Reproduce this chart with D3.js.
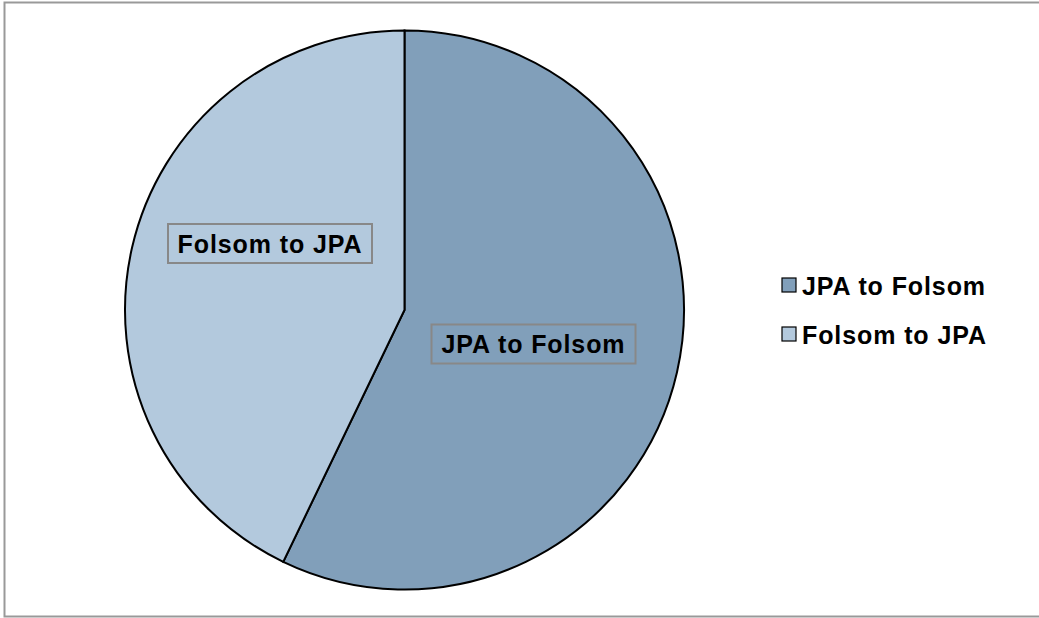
<!DOCTYPE html>
<html><head><meta charset="utf-8">
<script src="https://cdn.jsdelivr.net/npm/d3@7"></script>
<style>body{margin:0;background:#fff;}svg{display:block;}text{font-family:"Liberation Sans",Arial,sans-serif;font-weight:bold;letter-spacing:0.9px;}</style>
</head><body>
<svg id="c" width="1039" height="618"></svg>
<script>
const categories = ["JPA to Folsom", "Folsom to JPA"];
const values = [4, 3];
const colors = ["#819FBA", "#B3C9DD"];

const svg = d3.select("#c");
svg.append("rect").attr("x",4.5).attr("y",2.5).attr("width",1040).attr("height",614)
  .attr("fill","#fff").attr("stroke","#999").attr("stroke-width",2);

const cx = 404.5, cy = 310, r = 279.5;
const data = categories.map((c,i)=>({name:c, value:values[i], color:colors[i]}));
const pie = d3.pie().value(d=>d.value).sort(null);
const arc = d3.arc().innerRadius(0).outerRadius(r);
const arcs = pie(data);
const g = svg.append("g").attr("transform",`translate(${cx},${cy})`);
g.selectAll("path").data(arcs).enter().append("path")
  .attr("d",arc).attr("fill",d=>d.data.color).attr("stroke","#000").attr("stroke-width",2);

// data labels
const labelPos = [[533.5,344],[270,243.5]];
arcs.forEach((a,i)=>{
  const [lx,ly] = labelPos[i];
  const t = svg.append("text").attr("x",lx).attr("y",ly+9).attr("text-anchor","middle")
    .attr("font-size",25).text(a.data.name);
  svg.insert("rect", () => t.node())
    .attr("x",lx-102).attr("y",ly-19.5).attr("width",204).attr("height",39)
    .attr("fill",a.data.color).attr("stroke","#888").attr("stroke-width",2);
});

// legend
const legend = svg.append("g");
data.forEach((d,i)=>{
  const y = 285 + i*49;
  legend.append("rect").attr("x",782).attr("y",y-7).attr("width",14).attr("height",14)
    .attr("fill",d.color).attr("stroke","#000").attr("stroke-width",1.2);
  legend.append("text").attr("x",802).attr("y",y+9.5).attr("font-size",25).text(d.name);
});
</script>
</body></html>
